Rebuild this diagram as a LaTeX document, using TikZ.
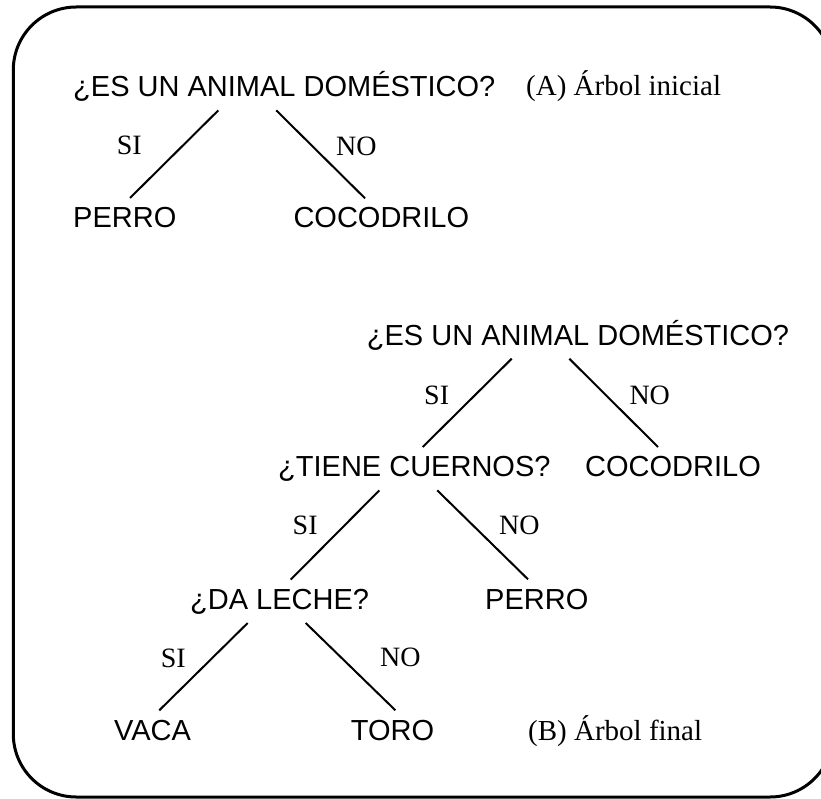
\documentclass[tikz,border=0pt]{standalone}
\usepackage{fontspec}
\setmainfont{Liberation Serif}
\newfontfamily\sansfnt{Liberation Sans}
\begin{document}
\begin{tikzpicture}[x=1pt,y=-1pt,
  word/.style={font=\sansfnt\fontsize{29}{34}\selectfont, anchor=base west,
    inner xsep=0pt, inner ysep=8.5pt, text height=21pt, text depth=5pt},
  answer/.style={font=\fontsize{28}{33}\selectfont, anchor=base west, inner sep=0pt},
  caption/.style={font=\fontsize{29}{34}\selectfont, anchor=base west, inner sep=0pt},
  branch/.style={line width=2pt}]
\useasboundingbox (0,0) rectangle (821,799);
\begin{scope}
\clip (0,0) rectangle (821,799);
\draw[line width=3pt, rounded corners=63pt] (13.3,7) rectangle (833,797);
\end{scope}

% initial tree
\node[word] (q1) at (73,96.7) {¿ES UN ANIMAL DOMÉSTICO?};
\node[caption] (capA) at (526,96) {(A) Árbol inicial};
\node[word] (perro1) at (73,227.7) {PERRO};
\node[word] (coco1) at (293.3,228) {COCODRILO};
\node[answer] (si1) at (116.7,155) {SI};
\node[answer] (no1) at (336,155.7) {NO};
\draw[branch] ([xshift=145.3pt]q1.south west) -- ([xshift=57pt]perro1.north west);
\draw[branch] ([xshift=203.3pt]q1.south west) -- ([xshift=71.7pt]coco1.north west);

% final tree
\node[word] (q2) at (366.7,345) {¿ES UN ANIMAL DOMÉSTICO?};
\node[word] (tiene) at (278,476.7) {¿TIENE CUERNOS?};
\node[word] (coco2) at (585,476.7) {COCODRILO};
\node[word] (leche) at (190,609.3) {¿DA LECHE?};
\node[word] (perro2) at (485,609) {PERRO};
\node[word] (vaca) at (114,740) {VACA};
\node[word] (toro) at (350.7,740) {TORO};
\node[caption] (capB) at (528,740) {(B) Árbol final};

\node[answer] (si2) at (424,404) {SI};
\node[answer] (no2) at (629.3,404) {NO};
\node[answer] (si3) at (292.5,534.3) {SI};
\node[answer] (no3) at (499,534.3) {NO};
\node[answer] (si4) at (160.7,667.3) {SI};
\node[answer] (no4) at (380,666.7) {NO};

\draw[branch] ([xshift=145pt]q2.south west) -- ([xshift=144.7pt]tiene.north west);
\draw[branch] ([xshift=202.6pt]q2.south west) -- ([xshift=73pt]coco2.north west);
\draw[branch] ([xshift=101.3pt]tiene.south west) -- ([xshift=100.7pt]leche.north west);
\draw[branch] ([xshift=159.3pt]tiene.south west) -- ([xshift=43pt]perro2.north west);
\draw[branch] ([xshift=57.7pt]leche.south west) -- ([xshift=45.3pt]vaca.north west);
\draw[branch] ([xshift=115.7pt]leche.south west) -- ([xshift=44.7pt]toro.north west);
\end{tikzpicture}
\end{document}
